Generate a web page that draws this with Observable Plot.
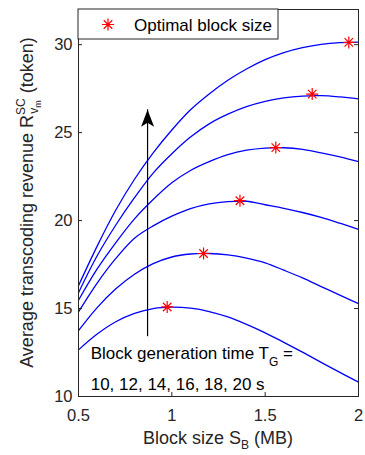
<!DOCTYPE html>
<html>
<head>
<meta charset="utf-8">
<script src="https://cdn.jsdelivr.net/npm/d3@7"></script>
<script src="https://cdn.jsdelivr.net/npm/@observablehq/plot@0.6"></script>
<style>
  html, body { margin: 0; padding: 0; background: #fff; }
</style>
</head>
<body>
<div id="chart"></div>
<script>
// ---- data ----
const blockSize = [0.5, 0.6, 0.7, 0.8, 0.9, 1.0, 1.1, 1.2, 1.3, 1.4, 1.5, 1.6, 1.7, 1.8, 1.9, 2.0];
const genTimes = [10, 12, 14, 16, 18, 20];
const rev10 = [12.65, 13.55, 14.25, 14.72, 15.0, 15.08, 15.02, 14.83, 14.52, 14.1, 13.62, 13.08, 12.52, 11.94, 11.37, 10.82];
const rev12 = [13.74, 15.05, 16.12, 16.95, 17.55, 17.93, 18.1, 18.13, 18.05, 17.87, 17.6, 17.18, 16.74, 16.25, 15.76, 15.28];
const rev14 = [14.81, 16.45, 17.85, 19.0, 19.7, 20.25, 20.68, 20.95, 21.08, 21.1, 20.9, 20.7, 20.46, 20.18, 19.85, 19.5];
const rev16 = [15.47, 17.25, 18.75, 20.1, 21.2, 22.15, 22.85, 23.35, 23.75, 24.0, 24.12, 24.14, 24.05, 23.85, 23.62, 23.35];
const rev18 = [15.9, 18.0, 19.75, 21.3, 22.7, 23.8, 24.75, 25.5, 26.05, 26.48, 26.78, 26.98, 27.08, 27.1, 27.03, 26.92];
const rev20 = [16.3, 18.55, 20.6, 22.35, 23.85, 25.15, 26.3, 27.2, 27.98, 28.62, 29.15, 29.55, 29.83, 30.02, 30.12, 30.15];
const optBlockSize = [0.975, 1.17, 1.365, 1.557, 1.752, 1.948];
const optRevenue = [15.09, 18.13, 21.13, 24.15, 27.19, 30.13];
const xTicks = [0.5, 1, 1.5, 2];
const yTicks = [10, 15, 20, 25, 30];
const arrowX = [0.87];
const arrowFrom = [13.4];
const arrowTo = [26.3];
const legendLabel = "Optimal block size";
const noteLine1 = "Block generation time T";
const noteSub = "G";
const noteLine2 = "10, 12, 14, 16, 18, 20 s";

// ---- layout ----
const W = 365, H = 455, mL = 78, mR = 7, mT = 9, mB = 59;
const plotW = W - mL - mR, plotH = H - mT - mB;
const ink = "#262626";
const font = "'Liberation Sans', Arial, Helvetica, sans-serif";

const series = [rev10, rev12, rev14, rev16, rev18, rev20];
const rows = [];
series.forEach((s, i) => s.forEach((v, j) => rows.push({T: genTimes[i], x: blockSize[j], y: v})));
const optimal = optBlockSize.map((x, i) => ({x, y: optRevenue[i]}));
const arrow = arrowX.map((x, i) => ({x, y1: arrowFrom[i], y2: arrowTo[i]}));

const asterisk = {
  draw(ctx, size) {
    const r = Math.sqrt(size / Math.PI), d = r * Math.SQRT1_2;
    ctx.moveTo(-r, 0); ctx.lineTo(r, 0);
    ctx.moveTo(0, -r); ctx.lineTo(0, r);
    ctx.moveTo(-d, -d); ctx.lineTo(d, d);
    ctx.moveTo(-d, d); ctx.lineTo(d, -d);
  }
};
const arrowHead = {
  draw(ctx) {
    ctx.moveTo(0, 0); ctx.lineTo(6.5, 17); ctx.lineTo(0, 13); ctx.lineTo(-6.5, 17); ctx.closePath();
  }
};

const plot = Plot.plot({
  width: W, height: H,
  marginLeft: mL, marginRight: mR, marginTop: mT, marginBottom: mB,
  style: {fontFamily: font, fontSize: "16.5px", color: ink, background: "#fff", overflow: "visible"},
  x: {domain: [0.5, 2]},
  y: {domain: [10, 32]},
  marks: [
    Plot.line(rows, {x: "x", y: "y", z: "T", stroke: "#0000ff", strokeWidth: 1.3, curve: "catmull-rom"}),
    Plot.ruleX(arrow, {x: "x", y1: "y1", y2: "y2", stroke: "#000", strokeWidth: 1.2}),
    Plot.dot(arrow, {x: "x", y: "y2", symbol: arrowHead, r: 5, fill: "#000", stroke: "none"}),
    Plot.dot(optimal, {x: "x", y: "y", symbol: asterisk, r: 6, stroke: "#ff0000", fill: "none", strokeWidth: 1.2}),
    Plot.ruleX(xTicks, {x: d => d, insetTop: plotH - 4, stroke: ink}),
    Plot.ruleX(xTicks, {x: d => d, insetBottom: plotH - 4, stroke: ink}),
    Plot.ruleY(yTicks, {y: d => d, insetRight: plotW - 4, stroke: ink}),
    Plot.ruleY(yTicks, {y: d => d, insetLeft: plotW - 4, stroke: ink}),
    Plot.axisX({ticks: xTicks, tickSize: 0, tickPadding: 13, label: null, fontSize: 16.5, tickFormat: d => String(d)}),
    Plot.axisY({ticks: yTicks, tickSize: 0, tickPadding: 6, label: null, fontSize: 16.5, tickFormat: d => String(d)}),
    Plot.frame({stroke: ink, strokeWidth: 1})
  ]
});
document.getElementById("chart").appendChild(plot);

const svg = d3.select(plot);
const xs = plot.scale("x"), ys = plot.scale("y");

// legend
const lg = svg.append("g");
lg.append("rect").attr("x", mL).attr("y", mT).attr("width", 200).attr("height", 30)
  .attr("fill", "#fff").attr("stroke", ink).attr("stroke-width", 1);
const sr = 6, sd = sr * Math.SQRT1_2, sx = 108, sy = 24.5;
lg.append("path")
  .attr("d", `M${sx - sr},${sy}H${sx + sr}M${sx},${sy - sr}V${sy + sr}M${sx - sd},${sy - sd}L${sx + sd},${sy + sd}M${sx - sd},${sy + sd}L${sx + sd},${sy - sd}`)
  .attr("stroke", "#ff0000").attr("stroke-width", 1.2).attr("fill", "none");
lg.append("text").attr("x", 134).attr("y", 31).attr("font-size", 17).attr("fill", "#000")
  .attr("text-anchor", "start").attr("font-family", font).text(legendLabel);

// x label
const xl = svg.append("text").attr("x", mL + plotW / 2).attr("y", 444)
  .attr("text-anchor", "middle").attr("font-size", 18).attr("fill", ink).attr("font-family", font);
xl.append("tspan").text("Block size S");
xl.append("tspan").attr("font-size", 12).attr("dy", 5).text("B");
xl.append("tspan").attr("dy", -5).text(" (MB)");

// y label
const yl = svg.append("text").attr("transform", `translate(33,${mT + plotH / 2}) rotate(-90)`)
  .attr("text-anchor", "middle").attr("font-size", 18).attr("fill", ink).attr("font-family", font);
yl.append("tspan").text("Average transcoding revenue R");
yl.append("tspan").attr("font-size", 12).attr("dy", -8).text("SC");
yl.append("tspan").attr("font-size", 12).attr("dx", -15.4).attr("dy", 13).text("v");
yl.append("tspan").attr("font-size", 9).attr("dy", 3).text("m");
yl.append("tspan").attr("dx", 2).attr("dy", -8).text(" (token)");

// annotation
const nx = xs.apply(0.568);
const n1 = svg.append("text").attr("x", nx).attr("y", ys.apply(12.12)).attr("text-anchor", "start")
  .attr("font-size", 17).attr("fill", "#000").attr("font-family", font);
n1.append("tspan").text(noteLine1);
n1.append("tspan").attr("font-size", 12).attr("dy", 7).text(noteSub);
n1.append("tspan").attr("dy", -7).text(" =");
svg.append("text").attr("x", nx).attr("y", ys.apply(10.32)).attr("text-anchor", "start")
  .attr("font-size", 17).attr("fill", "#000").attr("font-family", font).text(noteLine2);
</script>
</body>
</html>
